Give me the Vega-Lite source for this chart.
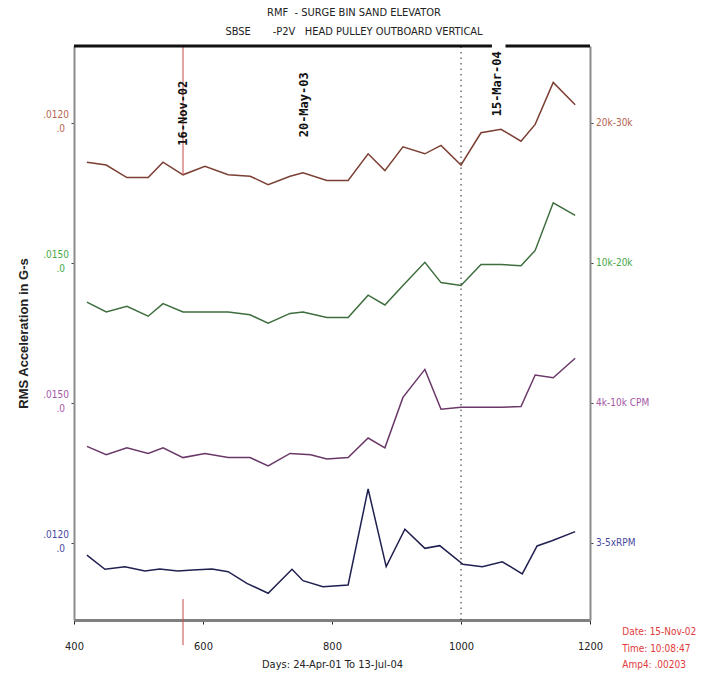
{
  "$schema": "https://vega.github.io/schema/vega-lite/v6.json",
  "width": 516,
  "height": 574,
  "autosize": "none",
  "padding": {"left": 74, "top": 46, "right": 116, "bottom": 65},
  "background": "white",
  "config": {
    "view": {"stroke": null},
    "font": "Liberation Sans Narrow, DejaVu Sans Condensed, sans-serif"
  },
  "title": {
    "text": ["RMF\u00a0\u00a0- SURGE BIN SAND ELEVATOR", "SBSE\u00a0\u00a0\u00a0\u00a0\u00a0\u00a0\u00a0-P2V\u00a0\u00a0\u00a0HEAD PULLEY OUTBOARD VERTICAL"],
    "fontSize": 11,
    "fontWeight": "normal",
    "color": "#222222",
    "font": "Liberation Sans Narrow, DejaVu Sans Condensed, sans-serif",
    "lineHeight": 19,
    "offset": 8,
    "anchor": "middle",
    "dx": 22
  },
  "datasets": {
    "one": [{}],
    "trend": [
      {"series": "20k-30k", "day": 420, "level": 2.72},
      {"series": "20k-30k", "day": 450, "level": 2.70},
      {"series": "20k-30k", "day": 482, "level": 2.61},
      {"series": "20k-30k", "day": 515, "level": 2.61},
      {"series": "20k-30k", "day": 538, "level": 2.72},
      {"series": "20k-30k", "day": 569, "level": 2.63},
      {"series": "20k-30k", "day": 603, "level": 2.69},
      {"series": "20k-30k", "day": 639, "level": 2.63},
      {"series": "20k-30k", "day": 673, "level": 2.62},
      {"series": "20k-30k", "day": 701, "level": 2.56},
      {"series": "20k-30k", "day": 735, "level": 2.62},
      {"series": "20k-30k", "day": 755, "level": 2.645},
      {"series": "20k-30k", "day": 792, "level": 2.59},
      {"series": "20k-30k", "day": 825, "level": 2.59},
      {"series": "20k-30k", "day": 856, "level": 2.78},
      {"series": "20k-30k", "day": 882, "level": 2.66},
      {"series": "20k-30k", "day": 910, "level": 2.83},
      {"series": "20k-30k", "day": 944, "level": 2.78},
      {"series": "20k-30k", "day": 969, "level": 2.84},
      {"series": "20k-30k", "day": 1000, "level": 2.70},
      {"series": "20k-30k", "day": 1031, "level": 2.93},
      {"series": "20k-30k", "day": 1062, "level": 2.955},
      {"series": "20k-30k", "day": 1093, "level": 2.87},
      {"series": "20k-30k", "day": 1115, "level": 2.99},
      {"series": "20k-30k", "day": 1143, "level": 3.29},
      {"series": "20k-30k", "day": 1177, "level": 3.13},
      {"series": "10k-20k", "day": 420, "level": 1.72},
      {"series": "10k-20k", "day": 450, "level": 1.65},
      {"series": "10k-20k", "day": 482, "level": 1.69},
      {"series": "10k-20k", "day": 515, "level": 1.62},
      {"series": "10k-20k", "day": 538, "level": 1.71},
      {"series": "10k-20k", "day": 569, "level": 1.65},
      {"series": "10k-20k", "day": 603, "level": 1.65},
      {"series": "10k-20k", "day": 639, "level": 1.65},
      {"series": "10k-20k", "day": 673, "level": 1.63},
      {"series": "10k-20k", "day": 701, "level": 1.57},
      {"series": "10k-20k", "day": 735, "level": 1.64},
      {"series": "10k-20k", "day": 755, "level": 1.65},
      {"series": "10k-20k", "day": 792, "level": 1.61},
      {"series": "10k-20k", "day": 825, "level": 1.61},
      {"series": "10k-20k", "day": 856, "level": 1.77},
      {"series": "10k-20k", "day": 882, "level": 1.70},
      {"series": "10k-20k", "day": 910, "level": 1.84},
      {"series": "10k-20k", "day": 944, "level": 2.005},
      {"series": "10k-20k", "day": 969, "level": 1.86},
      {"series": "10k-20k", "day": 1000, "level": 1.84},
      {"series": "10k-20k", "day": 1031, "level": 1.99},
      {"series": "10k-20k", "day": 1062, "level": 1.99},
      {"series": "10k-20k", "day": 1093, "level": 1.98},
      {"series": "10k-20k", "day": 1115, "level": 2.09},
      {"series": "10k-20k", "day": 1143, "level": 2.43},
      {"series": "10k-20k", "day": 1177, "level": 2.34},
      {"series": "4k-10k CPM", "day": 420, "level": 0.69},
      {"series": "4k-10k CPM", "day": 450, "level": 0.63},
      {"series": "4k-10k CPM", "day": 482, "level": 0.68},
      {"series": "4k-10k CPM", "day": 515, "level": 0.64},
      {"series": "4k-10k CPM", "day": 538, "level": 0.68},
      {"series": "4k-10k CPM", "day": 569, "level": 0.61},
      {"series": "4k-10k CPM", "day": 603, "level": 0.64},
      {"series": "4k-10k CPM", "day": 639, "level": 0.61},
      {"series": "4k-10k CPM", "day": 673, "level": 0.61},
      {"series": "4k-10k CPM", "day": 701, "level": 0.55},
      {"series": "4k-10k CPM", "day": 735, "level": 0.64},
      {"series": "4k-10k CPM", "day": 767, "level": 0.63},
      {"series": "4k-10k CPM", "day": 792, "level": 0.60},
      {"series": "4k-10k CPM", "day": 825, "level": 0.61},
      {"series": "4k-10k CPM", "day": 856, "level": 0.75},
      {"series": "4k-10k CPM", "day": 882, "level": 0.68},
      {"series": "4k-10k CPM", "day": 910, "level": 1.04},
      {"series": "4k-10k CPM", "day": 944, "level": 1.24},
      {"series": "4k-10k CPM", "day": 969, "level": 0.955},
      {"series": "4k-10k CPM", "day": 1000, "level": 0.97},
      {"series": "4k-10k CPM", "day": 1031, "level": 0.97},
      {"series": "4k-10k CPM", "day": 1062, "level": 0.97},
      {"series": "4k-10k CPM", "day": 1093, "level": 0.975},
      {"series": "4k-10k CPM", "day": 1115, "level": 1.20},
      {"series": "4k-10k CPM", "day": 1143, "level": 1.18},
      {"series": "4k-10k CPM", "day": 1177, "level": 1.32},
      {"series": "3-5xRPM", "day": 420, "level": -0.086},
      {"series": "3-5xRPM", "day": 448, "level": -0.188},
      {"series": "3-5xRPM", "day": 479, "level": -0.169},
      {"series": "3-5xRPM", "day": 510, "level": -0.20},
      {"series": "3-5xRPM", "day": 533, "level": -0.186},
      {"series": "3-5xRPM", "day": 561, "level": -0.20},
      {"series": "3-5xRPM", "day": 584, "level": -0.193},
      {"series": "3-5xRPM", "day": 614, "level": -0.186},
      {"series": "3-5xRPM", "day": 639, "level": -0.205},
      {"series": "3-5xRPM", "day": 668, "level": -0.288},
      {"series": "3-5xRPM", "day": 701, "level": -0.359},
      {"series": "3-5xRPM", "day": 738, "level": -0.188},
      {"series": "3-5xRPM", "day": 755, "level": -0.269},
      {"series": "3-5xRPM", "day": 786, "level": -0.312},
      {"series": "3-5xRPM", "day": 825, "level": -0.30},
      {"series": "3-5xRPM", "day": 856, "level": 0.386},
      {"series": "3-5xRPM", "day": 884, "level": -0.169},
      {"series": "3-5xRPM", "day": 913, "level": 0.098},
      {"series": "3-5xRPM", "day": 944, "level": -0.038},
      {"series": "3-5xRPM", "day": 967, "level": -0.019},
      {"series": "3-5xRPM", "day": 1003, "level": -0.152},
      {"series": "3-5xRPM", "day": 1033, "level": -0.169},
      {"series": "3-5xRPM", "day": 1064, "level": -0.134},
      {"series": "3-5xRPM", "day": 1095, "level": -0.221},
      {"series": "3-5xRPM", "day": 1118, "level": -0.021},
      {"series": "3-5xRPM", "day": 1141, "level": 0.016},
      {"series": "3-5xRPM", "day": 1177, "level": 0.081}
    ],
    "bands": [
      {"series": "20k-30k", "level": 3, "scaleText": ".0120"},
      {"series": "10k-20k", "level": 2, "scaleText": ".0150"},
      {"series": "4k-10k CPM", "level": 1, "scaleText": ".0150"},
      {"series": "3-5xRPM", "level": 0, "scaleText": ".0120"}
    ],
    "events": [
      {"day": 569, "level": 3.07, "label": "16-Nov-02"},
      {"day": 757, "level": 3.13, "label": "20-May-03"},
      {"day": 1056, "level": 3.28, "label": "15-Mar-04"}
    ]
  },
  "resolve": {"scale": {"color": "independent"}, "axis": {"y": "independent"}},
  "layer": [
    {
      "data": {"name": "trend"},
      "mark": {"type": "line", "strokeWidth": 1.5},
      "encoding": {
        "x": {
          "field": "day", "type": "quantitative",
          "scale": {"domain": [400, 1200], "nice": false, "zero": false},
          "axis": {
            "values": [400, 600, 800, 1000, 1200], "grid": false, "format": "d",
            "title": "Days: 24-Apr-01 To 13-Jul-04",
            "domainColor": "#808080", "domainWidth": 3,
            "tickColor": "#222222", "tickSize": 4,
            "labelFontSize": 11, "labelColor": "#222222", "labelPadding": 16, "labelFlush": false,
            "titleFontSize": 11, "titleFontWeight": "normal", "titleColor": "#222222", "titlePadding": 7
          }
        },
        "y": {
          "field": "level", "type": "quantitative",
          "scale": {"domain": [-0.55, 3.55], "nice": false, "zero": false},
          "axis": {
            "orient": "left", "values": [0, 1, 2, 3], "labels": false, "grid": false,
            "domainColor": "#8c8c8c", "domainWidth": 2,
            "tickSize": 3, "tickColor": "#444444",
            "title": "RMS Acceleration in G-s", "titleFontSize": 13, "titleFontWeight": "bold",
            "titleColor": "#222222", "titlePadding": 40,
            "titleFont": "Liberation Sans, DejaVu Sans, sans-serif"
          }
        },
        "color": {
          "field": "series", "type": "nominal",
          "scale": {"domain": ["20k-30k", "10k-20k", "4k-10k CPM", "3-5xRPM"], "range": ["#7b3f33", "#3e6e3e", "#6a3868", "#202050"]},
          "legend": null
        }
      }
    },
    {
      "data": {"name": "one"},
      "mark": {"type": "rule", "strokeDash": [1.5, 4], "color": "#222222", "strokeWidth": 1},
      "encoding": {"x": {"datum": 1000}, "y": {"datum": -0.55, "axis": null}, "y2": {"datum": 3.55}}
    },
    {
      "data": {"name": "one"},
      "mark": {"type": "rule", "color": "#c84a4a", "strokeWidth": 1},
      "encoding": {"x": {"datum": 569}, "y": {"datum": 3.55, "axis": null}, "y2": {"datum": 2.63}}
    },
    {
      "data": {"name": "one"},
      "mark": {"type": "rule", "color": "#c84a4a", "strokeWidth": 1},
      "encoding": {"x": {"datum": 569}, "y": {"datum": -0.40, "axis": null}, "y2": {"datum": -0.73}}
    },
    {
      "data": {"name": "one"},
      "mark": {"type": "rule", "color": "#111111", "strokeWidth": 3},
      "encoding": {"x": {"datum": 400}, "x2": {"datum": 1048}, "y": {"datum": 3.55, "axis": null}}
    },
    {
      "data": {"name": "one"},
      "mark": {"type": "rule", "color": "#111111", "strokeWidth": 3},
      "encoding": {"x": {"datum": 1069}, "x2": {"datum": 1200}, "y": {"datum": 3.55, "axis": null}}
    },
    {
      "data": {"name": "events"},
      "mark": {"type": "text", "angle": 270, "align": "center", "baseline": "middle", "fontSize": 12, "font": "DejaVu Sans Mono", "fontWeight": "bold", "color": "#111111"},
      "encoding": {
        "x": {"field": "day", "type": "quantitative"},
        "y": {"field": "level", "type": "quantitative", "axis": null},
        "text": {"field": "label"}
      }
    },
    {
      "data": {"name": "bands"},
      "mark": {"type": "text", "align": "right", "baseline": "bottom", "dx": -5, "dy": -3, "fontSize": 10},
      "encoding": {
        "x": {"datum": 400},
        "y": {"field": "level", "type": "quantitative", "axis": null},
        "text": {"field": "scaleText"},
        "color": {"field": "series", "type": "nominal", "legend": null,
          "scale": {"domain": ["20k-30k", "10k-20k", "4k-10k CPM", "3-5xRPM"], "range": ["#b5654f", "#48a848", "#a458a4", "#4848a0"]}}
      }
    },
    {
      "data": {"name": "bands"},
      "mark": {"type": "text", "align": "right", "baseline": "middle", "dx": -9, "dy": 6, "fontSize": 10, "text": ".0"},
      "encoding": {
        "x": {"datum": 400},
        "y": {"field": "level", "type": "quantitative", "axis": null},
        "color": {"field": "series", "type": "nominal", "legend": null,
          "scale": {"domain": ["20k-30k", "10k-20k", "4k-10k CPM", "3-5xRPM"], "range": ["#b5654f", "#48a848", "#a458a4", "#4848a0"]}}
      }
    },
    {
      "data": {"name": "bands"},
      "mark": {"type": "text", "align": "left", "baseline": "middle", "dx": 6, "fontSize": 10},
      "encoding": {
        "x": {"datum": 1200},
        "y": {"field": "level", "type": "quantitative",
          "axis": {"orient": "right", "values": [0, 1, 2, 3], "labels": false, "grid": false, "title": null,
            "domainColor": "#8c8c8c", "domainWidth": 2, "tickSize": 3, "tickColor": "#444444"}},
        "text": {"field": "series"},
        "color": {"field": "series", "type": "nominal", "legend": null,
          "scale": {"domain": ["20k-30k", "10k-20k", "4k-10k CPM", "3-5xRPM"], "range": ["#b5654f", "#48a848", "#a458a4", "#4848a0"]}}
      }
    },
    {
      "data": {"name": "one"},
      "mark": {"type": "text", "align": "left", "baseline": "top", "fontSize": 10, "lineHeight": 16.5, "color": "#e03a3a",
        "text": ["Date: 15-Nov-02", "Time: 10:08:47", "Amp4: .00203"]},
      "encoding": {"x": {"datum": 1250}, "y": {"datum": -0.60, "axis": null}}
    }
  ]
}
